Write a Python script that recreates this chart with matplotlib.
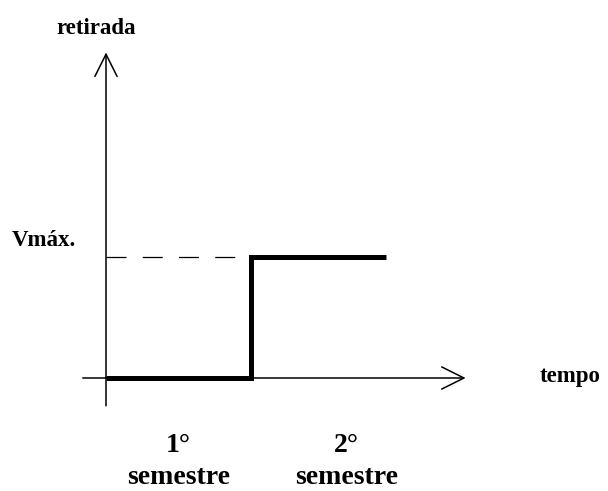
import matplotlib.pyplot as plt

# step of withdrawals: zero in 1st semester, Vmax in 2nd
tempo = [0, 1, 1.93]
retirada = [0, 1, 1]
vmax = 1

semestre_pos = [0.5, 1.66]
semestre_labels = ["1°\nsemestre", "2°\nsemestre"]

fig = plt.figure(figsize=(6.08, 4.91), dpi=100)
ax = fig.add_axes([0, 0, 1, 1])
ax.set_xlim(-0.731, 3.462)
ax.set_ylim(-0.934, 3.124)
ax.axis("off")

font = dict(family="Liberation Serif", fontweight="bold", color="black")

# axes with open arrow heads
arrow = dict(arrowstyle="->,head_length=1.6,head_width=0.8", mutation_scale=10,
             lw=1.1, color="black", shrinkA=0, shrinkB=0)
ax.annotate("", xy=(2.48, 0), xytext=(-0.16, 0), arrowprops=arrow)
ax.annotate("", xy=(0, 2.69), xytext=(0, -0.23), arrowprops=arrow)

# dashed reference at Vmax
ax.plot([0, tempo[1]], [vmax, vmax], color="black", lw=0.9, dashes=(16, 13))

# the step itself
ax.step(tempo, retirada, where="post", color="black", lw=3.6,
        solid_joinstyle="miter", solid_capstyle="butt")

ax.text(-0.07, 2.89, "retirada", ha="center", va="center", fontsize=16.5, **font)
ax.text(-0.43, 1.14, "Vmáx.", ha="center", va="center", fontsize=16.5, **font)
ax.text(3.2, 0.01, "tempo", ha="center", va="center", fontsize=16.5, **font)

for x, lab in zip(semestre_pos, semestre_labels):
    ax.text(x, -0.69, lab, ha="center", va="center", fontsize=20,
            linespacing=1.4, **font)

fig.savefig("out.png", dpi=100)
